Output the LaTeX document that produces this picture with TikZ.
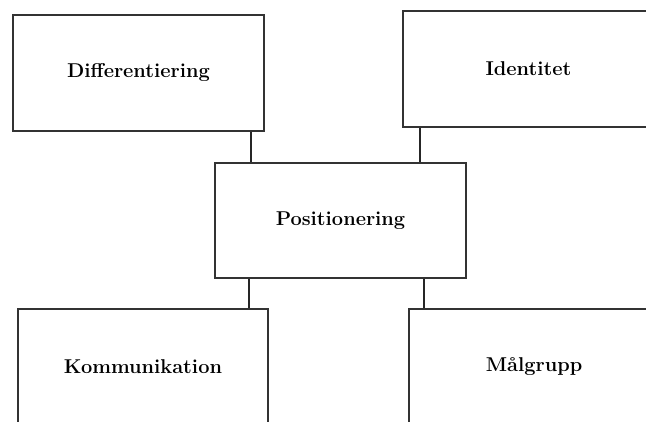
\documentclass[tikz,border=0pt]{standalone}
\usepackage{fontspec}
\usepackage{tikz}

\begin{document}
\begin{tikzpicture}[x=1pt,y=1pt,
    box/.style={draw=black!80, line width=1.3pt, rectangle, minimum width=251pt, minimum height=116pt,
        inner sep=0pt, font=\fontsize{20}{24}\selectfont\bfseries},
    link/.style={draw=black!85, line width=1.6pt}]
    \useasboundingbox (0,0) rectangle (646,421);
    \clip (0,0) rectangle (646,421);

    % Top row
    \node[box] (diff) at (138.5,348) {Differentiering};
    \node[box] (ident) at (528.5,352) {Identitet};

    % Centre
    \node[box, minimum height=115pt] (pos) at (340.5,200.5) {Positionering};

    % Bottom row
    \node[box, minimum width=250pt] (komm) at (143,54) {Kommunikation};
    \node[box, minimum width=250pt] (malg) at (534,54) {Målgrupp};

    % Connectors
    \draw[link] (diff.south east) ++(-13.5,0) coordinate (d1) -- (d1 |- pos.north);
    \draw[link] (ident.south west) ++(17.5,0) coordinate (i1) -- (i1 |- pos.north);
    \draw[link] (pos.south west) ++(34.5,0) coordinate (p1) -- (p1 |- komm.north);
    \draw[link] (pos.south east) ++(-42.5,0) coordinate (p2) -- (p2 |- malg.north);
\end{tikzpicture}
\end{document}
